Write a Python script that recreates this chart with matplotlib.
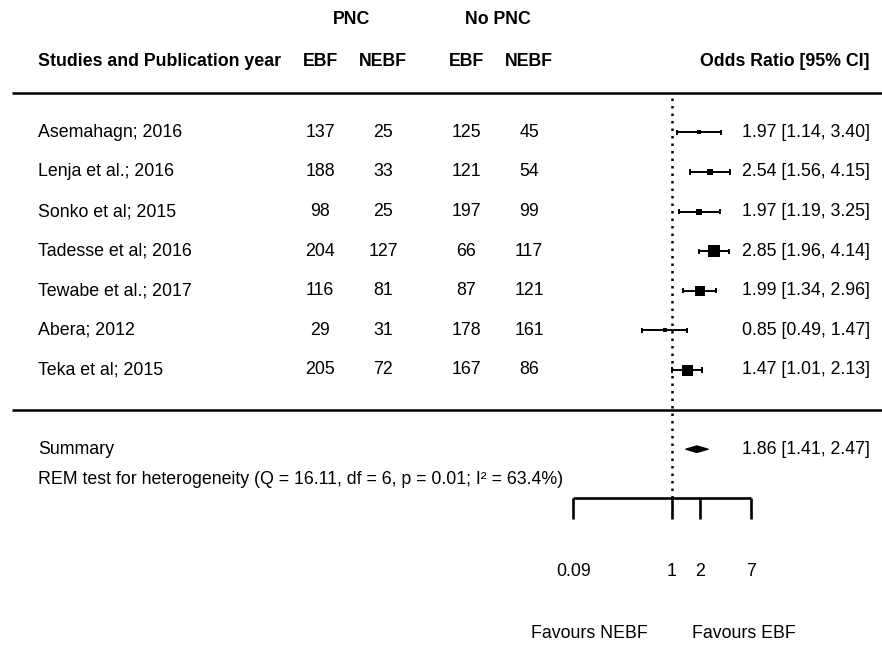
import numpy as np
import matplotlib
matplotlib.use("Agg")
import matplotlib.pyplot as plt
from matplotlib.patches import Polygon

plt.rcParams['font.family'] = ['Liberation Sans', 'DejaVu Sans']

# ---- data -------------------------------------------------------------
studies = ["Asemahagn; 2016", "Lenja et al.; 2016", "Sonko et al; 2015",
           "Tadesse et al; 2016", "Tewabe et al.; 2017", "Abera; 2012",
           "Teka et al; 2015"]
pnc_ebf = [137, 188, 98, 204, 116, 29, 205]
pnc_nebf = [25, 33, 25, 127, 81, 31, 72]
nopnc_ebf = [125, 121, 197, 66, 87, 178, 167]
nopnc_nebf = [45, 54, 99, 117, 121, 161, 86]
odds_ratio = [1.97, 2.54, 1.97, 2.85, 1.99, 0.85, 1.47]
ci_lower = [1.14, 1.56, 1.19, 1.96, 1.34, 0.49, 1.01]
ci_upper = [3.40, 4.15, 3.25, 4.14, 2.96, 1.47, 2.13]
summary_or, summary_lo, summary_hi = 1.86, 1.41, 2.47
het_text = "REM test for heterogeneity (Q = 16.11, df = 6, p = 0.01; I² = 63.4%)"
axis_ticks = [0.09, 1, 2, 7]
tick_labels = ["0.09", "1", "2", "7"]

# square side lengths (pixels), reflecting study weights
square_px = [4, 6, 6, 12, 10.5, 3.5, 11]

# ---- layout -----------------------------------------------------------
W, H = 882, 645
ROW0_PX, ROW_STEP = 370.0, 39.6          # pixel row of study row 1, row pitch


def row_of(px):
    return 1 + (ROW0_PX - px) / ROW_STEP


y_top, y_bot = row_of(0), row_of(H)

fig = plt.figure(figsize=(W / 100, H / 100), dpi=100)
ax = fig.add_axes([0, 0, 1, 1])
ax.set_xlim(0, W)
ax.set_ylim(y_bot, y_top)
ax.axis('off')

# forest panel: log odds-ratio scale
ONE_PX, PX_PER_LN = 671.5, 40.8
fx_left, fx_right = 540, 800
fx = fig.add_axes([fx_left / W, 0, (fx_right - fx_left) / W, 1])
fx.set_xscale('log')
fx.set_xlim(np.exp((fx_left - ONE_PX) / PX_PER_LN),
            np.exp((fx_right - ONE_PX) / PX_PER_LN))
fx.set_ylim(y_bot, y_top)
fx.axis('off')
fx.patch.set_alpha(0)

fs = 12.8
rows = np.arange(len(studies), 0, -1)

# header
x_label = 38
x_cols = [320, 383, 466, 529]
x_right = 870
y_group, y_head = row_of(20), row_of(62)
ax.text((x_cols[0] + x_cols[1]) / 2, y_group, "PNC", ha='center', va='center',
        fontsize=fs, fontweight='bold')
ax.text((x_cols[2] + x_cols[3]) / 2, y_group, "No PNC", ha='center', va='center',
        fontsize=fs, fontweight='bold')
ax.text(x_label, y_head, "Studies and Publication year", ha='left', va='center',
        fontsize=fs, fontweight='bold')
for xc, lab in zip(x_cols, ["EBF", "NEBF", "EBF", "NEBF"]):
    ax.text(xc, y_head, lab, ha='center', va='center', fontsize=fs, fontweight='bold')
ax.text(x_right, y_head, "Odds Ratio [95% CI]", ha='right', va='center',
        fontsize=fs, fontweight='bold')

# rules
n = len(studies)
ax.hlines([n + 1, 0], 12, W, color='black', lw=1.8)

# study rows
for r, name, a, b, c, d in zip(rows, studies, pnc_ebf, pnc_nebf, nopnc_ebf, nopnc_nebf):
    ax.text(x_label, r, name, ha='left', va='center', fontsize=fs)
    for xc, v in zip(x_cols, [a, b, c, d]):
        ax.text(xc, r, str(v), ha='center', va='center', fontsize=fs)

cap = 0.065
for r, est, lo, hi, s in zip(rows, odds_ratio, ci_lower, ci_upper, square_px):
    fx.hlines(r, lo, hi, color='black', lw=1.4)
    fx.vlines([lo, hi], r - cap, r + cap, color='black', lw=1.4)
    fx.plot(est, r, marker='s', ms=s * 0.72, color='black', mec='black', mew=0)
    ax.text(x_right, r, f"{est:.2f} [{lo:.2f}, {hi:.2f}]", ha='right', va='center',
            fontsize=fs)

# summary
y_sum = -1
half_h = 0.085
diamond = Polygon([(summary_lo, y_sum), (summary_or, y_sum + half_h),
                   (summary_hi, y_sum), (summary_or, y_sum - half_h)],
                  closed=True, facecolor='black', edgecolor='black', lw=0.8)
fx.add_patch(diamond)
ax.text(x_label, y_sum, "Summary", ha='left', va='center', fontsize=fs)
ax.text(x_right, y_sum, f"{summary_or:.2f} [{summary_lo:.2f}, {summary_hi:.2f}]",
        ha='right', va='center', fontsize=fs)
ax.text(x_label, row_of(480), het_text, ha='left', va='center', fontsize=fs)

# x axis bracket
y_axis, y_tick, y_ticklab = row_of(498), row_of(519), row_of(572)
fx.vlines(1, y_axis, n + 1, color='black', lw=1.8, linestyles=(0, (1, 2)))
fx.hlines(y_axis, min(axis_ticks), max(axis_ticks), color='black', lw=1.9)
fx.vlines(axis_ticks, y_tick, y_axis, color='black', lw=1.9)
for t, lab in zip(axis_ticks, tick_labels):
    fx.text(t, y_ticklab, lab, ha='center', va='center', fontsize=fs)

y_fav = row_of(634)
ax.text(589, y_fav, "Favours NEBF", ha='center', va='center', fontsize=fs)
ax.text(744, y_fav, "Favours EBF", ha='center', va='center', fontsize=fs)

fig.savefig("out.png", dpi=100)
